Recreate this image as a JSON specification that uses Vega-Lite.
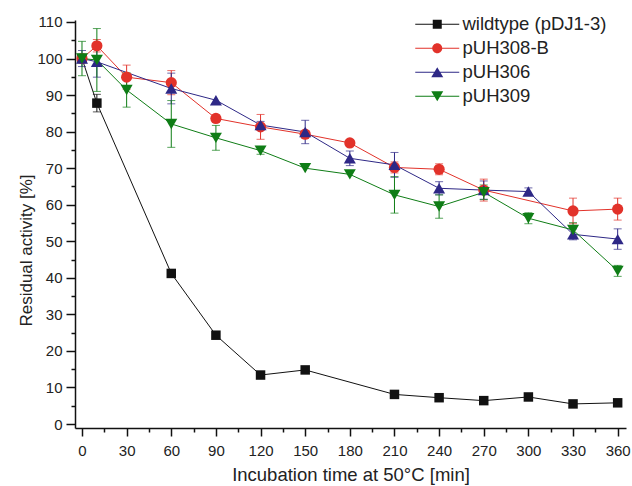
{
  "$schema": "https://vega.github.io/schema/vega-lite/v6.json",
  "width": 551,
  "height": 408,
  "autosize": "none",
  "padding": {"left": 75, "top": 20, "right": 6, "bottom": 58},
  "background": "white",
  "config": {
    "view": {"stroke": null},
    "font": "Liberation Sans",
    "axis": {
      "domainColor": "#111111",
      "domainWidth": 1.5,
      "tickColor": "#111111",
      "tickWidth": 1.5,
      "grid": false,
      "labelFont": "Liberation Sans",
      "labelFontSize": 15,
      "labelColor": "#222222",
      "titleFont": "Liberation Sans",
      "titleFontSize": 17,
      "titleFontWeight": "normal",
      "titleColor": "#222222",
      "labelOverlap": false,
      "labelFlush": false
    },
    "legend": {
      "title": null, "orient": "none", "legendX": 353, "legendY": -5,
      "labelFont": "Liberation Sans", "labelFontSize": 18.5, "labelColor": "#222222",
      "symbolSize": 100, "labelOffset": 16, "rowPadding": 5, "padding": 0,
      "symbolStrokeWidth": 0, "symbolOpacity": 1
    }
  },
  "data": {
    "values": [
      {"series": "wildtype (pDJ1-3)", "time": 0, "activity": 100},
      {"series": "wildtype (pDJ1-3)", "time": 10, "activity": 87.8, "err": 2.4},
      {"series": "wildtype (pDJ1-3)", "time": 60, "activity": 41.2},
      {"series": "wildtype (pDJ1-3)", "time": 90, "activity": 24.3},
      {"series": "wildtype (pDJ1-3)", "time": 120, "activity": 13.4},
      {"series": "wildtype (pDJ1-3)", "time": 150, "activity": 14.8},
      {"series": "wildtype (pDJ1-3)", "time": 210, "activity": 8.1},
      {"series": "wildtype (pDJ1-3)", "time": 240, "activity": 7.2},
      {"series": "wildtype (pDJ1-3)", "time": 270, "activity": 6.4},
      {"series": "wildtype (pDJ1-3)", "time": 300, "activity": 7.4},
      {"series": "wildtype (pDJ1-3)", "time": 330, "activity": 5.5},
      {"series": "wildtype (pDJ1-3)", "time": 360, "activity": 5.8},
      {"series": "pUH308-B", "time": 0, "activity": 100},
      {"series": "pUH308-B", "time": 10, "activity": 103.5, "err": 1.7},
      {"series": "pUH308-B", "time": 30, "activity": 94.9, "err": 3.3},
      {"series": "pUH308-B", "time": 60, "activity": 93.4, "err": 3.3},
      {"series": "pUH308-B", "time": 90, "activity": 83.6, "err": 1},
      {"series": "pUH308-B", "time": 120, "activity": 81.3, "err": 3.4},
      {"series": "pUH308-B", "time": 150, "activity": 79.3},
      {"series": "pUH308-B", "time": 180, "activity": 76.9},
      {"series": "pUH308-B", "time": 210, "activity": 70.2, "err": 1.5},
      {"series": "pUH308-B", "time": 240, "activity": 69.7, "err": 1.5},
      {"series": "pUH308-B", "time": 270, "activity": 64, "err": 3},
      {"series": "pUH308-B", "time": 330, "activity": 58.3, "err": 3.5},
      {"series": "pUH308-B", "time": 360, "activity": 58.8, "err": 3},
      {"series": "pUH306", "time": 0, "activity": 100, "err": 2.2},
      {"series": "pUH306", "time": 10, "activity": 99.1, "err": 4.2},
      {"series": "pUH306", "time": 60, "activity": 91.8, "err": 4.2},
      {"series": "pUH306", "time": 90, "activity": 88.6},
      {"series": "pUH306", "time": 120, "activity": 81.8, "err": 1},
      {"series": "pUH306", "time": 150, "activity": 79.9, "err": 3.2},
      {"series": "pUH306", "time": 180, "activity": 72.7, "err": 2},
      {"series": "pUH306", "time": 210, "activity": 70.9, "err": 3.4},
      {"series": "pUH306", "time": 240, "activity": 64.5, "err": 1.8},
      {"series": "pUH306", "time": 270, "activity": 64, "err": 2.5},
      {"series": "pUH306", "time": 300, "activity": 63.6, "err": 1},
      {"series": "pUH306", "time": 330, "activity": 51.9, "err": 1.5},
      {"series": "pUH306", "time": 360, "activity": 50.6, "err": 2.8},
      {"series": "pUH309", "time": 0, "activity": 100, "err": 4.7},
      {"series": "pUH309", "time": 10, "activity": 99.6, "err": 8.6},
      {"series": "pUH309", "time": 30, "activity": 91.4, "err": 4.7},
      {"series": "pUH309", "time": 60, "activity": 82.1, "err": 6.4},
      {"series": "pUH309", "time": 90, "activity": 78.3, "err": 3.4},
      {"series": "pUH309", "time": 120, "activity": 74.8, "err": 1},
      {"series": "pUH309", "time": 150, "activity": 70},
      {"series": "pUH309", "time": 180, "activity": 68.3},
      {"series": "pUH309", "time": 210, "activity": 62.7, "err": 5},
      {"series": "pUH309", "time": 240, "activity": 59.5, "err": 3.2},
      {"series": "pUH309", "time": 270, "activity": 63.4, "err": 2},
      {"series": "pUH309", "time": 300, "activity": 56.3, "err": 1.5},
      {"series": "pUH309", "time": 330, "activity": 53.1, "err": 2},
      {"series": "pUH309", "time": 360, "activity": 41.9, "err": 1.5}
    ]
  },
  "encoding": {
    "x": {
      "field": "time", "type": "quantitative",
      "scale": {"domain": [-4.7, 365.6], "nice": false, "zero": false},
      "axis": {
        "title": "Incubation time at 50°C [min]",
        "values": [0, 15, 30, 45, 60, 75, 90, 105, 120, 135, 150, 165, 180, 195, 210, 225, 240, 255, 270, 285, 300, 315, 330, 345, 360],
        "labelExpr": "datum.value % 30 === 0 ? datum.label : ''",
        "tickSize": {"condition": {"test": "datum.value % 30 === 0", "value": 8}, "value": 4},
        "labelPadding": 7,
        "titleFontSize": 18.5,
        "titleY": 46,
        "titleBaseline": "middle"
      }
    },
    "y": {
      "field": "activity", "type": "quantitative",
      "scale": {"domain": [-1.09, 110.54], "nice": false, "zero": false},
      "axis": {
        "title": "Residual activity [%]",
        "values": [0, 5, 10, 15, 20, 25, 30, 35, 40, 45, 50, 55, 60, 65, 70, 75, 80, 85, 90, 95, 100, 105, 110],
        "labelExpr": "datum.value % 10 === 0 ? datum.label : ''",
        "tickSize": {"condition": {"test": "datum.value % 10 === 0", "value": 9}, "value": 4},
        "labelPadding": 4,
        "titleX": -49,
        "titleY": 230,
        "titleAngle": 270,
        "titleBaseline": "middle",
        "titleAlign": "center"
      }
    },
    "color": {
      "field": "series", "type": "nominal",
      "scale": {
        "domain": ["wildtype (pDJ1-3)", "pUH308-B", "pUH306", "pUH309"],
        "range": ["#111111", "#e2322a", "#2e2886", "#0f7d16"]
      }
    }
  },
  "layer": [
    {
      "mark": {"type": "line", "strokeWidth": 1},
      "encoding": {"detail": {"field": "series"}}
    },
    {
      "transform": [{"filter": "isValid(datum.err)"}],
      "mark": {"type": "errorbar", "ticks": {"size": 8, "thickness": 1}, "thickness": 1},
      "encoding": {
        "y": {"field": "activity", "type": "quantitative"},
        "yError": {"field": "err"}
      }
    },
    {
      "transform": [{"filter": "datum.series === 'wildtype (pDJ1-3)'"}],
      "mark": {"type": "point", "shape": "square", "filled": true, "opacity": 1, "size": 90}
    },
    {
      "transform": [{"filter": "datum.series === 'pUH308-B'"}],
      "mark": {"type": "point", "shape": "circle", "filled": true, "opacity": 1, "size": 125}
    },
    {
      "transform": [{"filter": "datum.series === 'pUH306'"}],
      "mark": {"type": "point", "shape": "triangle-up", "filled": true, "opacity": 1, "size": 144}
    },
    {
      "transform": [{"filter": "datum.series === 'pUH309'"}],
      "mark": {"type": "point", "shape": "triangle-down", "filled": true, "opacity": 1, "size": 144}
    },
    {
      "transform": [{"filter": "datum.series === 'none'"}],
      "mark": {"type": "point", "filled": true, "opacity": 1, "strokeWidth": 0},
      "encoding": {
        "shape": {
          "field": "series", "type": "nominal",
          "scale": {
            "domain": ["wildtype (pDJ1-3)", "pUH308-B", "pUH306", "pUH309"],
            "range": [
              "M-4.4,-0.1H4.4V0.1H-4.4Z M-0.9,-0.9H0.9V0.9H-0.9Z",
              "M-4.4,-0.1H4.4V0.1H-4.4Z M1,0A1,1,0,1,1,-1,0A1,1,0,1,1,1,0Z",
              "M-4.4,-0.1H4.4V0.1H-4.4Z M0,-1L1.2,1H-1.2Z",
              "M-4.4,-0.1H4.4V0.1H-4.4Z M0,1L-1.2,-1H1.2Z"
            ]
          }
        }
      }
    }
  ]
}
